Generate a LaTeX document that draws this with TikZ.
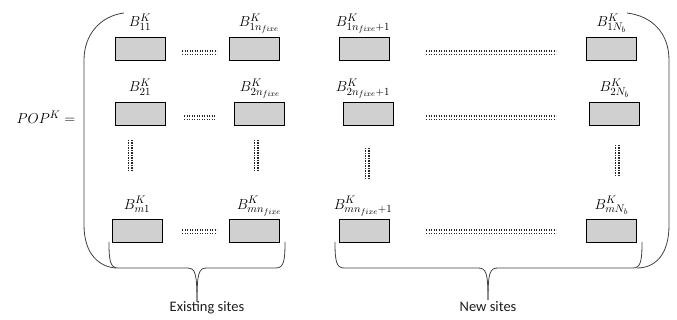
\documentclass[tikz,border=0pt]{standalone}
\usepackage{fontspec}
\newfontfamily\captfont{Carlito}
\DeclareMathSizes{15}{15}{11}{8.5}
\DeclareMathSizes{14}{14}{11}{8}
\begin{document}
\begin{tikzpicture}[x=1pt,y=-1pt,
  blk/.style={draw=black,line width=0.8pt,fill={rgb,255:red,208;green,208;blue,208},minimum width=50pt,minimum height=23pt,inner sep=0pt},
  lbl/.style={anchor=base,inner sep=0pt,font=\fontsize{15}{17}\selectfont},
  hdots/.style={line width=1.1pt,dash pattern=on 1.1pt off 1.4pt,black!85},
  brk/.style={line width=0.8pt,draw={rgb,255:red,64;green,64;blue,64}},
  capt/.style={inner sep=0pt,font=\captfont\fontsize{14.5}{16}\selectfont,anchor=base,text={rgb,255:red,30;green,30;blue,30}}]
\useasboundingbox (0,0) rectangle (677,320);
% boxes
\node[blk] (b11) at (140,48.5) {};
\node[blk] (b1f) at (254,48.5) {};
\node[blk] (b1g) at (364,48.5) {};
\node[blk] (b1n) at (611.5,48.5) {};
\node[blk] (b21) at (140,113.5) {};
\node[blk] (b2f) at (259,113.5) {};
\node[blk] (b2g) at (368,113.5) {};
\node[blk] (b2n) at (614.5,113.5) {};
\node[blk] (bm1) at (137,231) {};
\node[blk] (bmf) at (254,231) {};
\node[blk] (bmg) at (364,231) {};
\node[blk] (bmn) at (611.5,231) {};
% labels
\node[lbl] (l11) at ([yshift=10pt]b11.north) {$B_{11}^K$};
\node[lbl] (l1f) at ([xshift=5pt,yshift=10pt]b1f.north) {$B_{1n_{fixe}}^K$};
\node[lbl] (l1g) at ([xshift=-1pt,yshift=10pt]b1g.north) {$B_{1n_{fixe}+1}^K$};
\node[lbl] (l1n) at ([yshift=10pt]b1n.north) {$B_{1N_b}^K$};
\node[lbl] (l21) at ([yshift=10pt]b21.north) {$B_{21}^K$};
\node[lbl] (l2f) at ([xshift=1pt,yshift=10pt]b2f.north) {$B_{2n_{fixe}}^K$};
\node[lbl] (l2g) at ([xshift=-5pt,yshift=10pt]b2g.north) {$B_{2n_{fixe}+1}^K$};
\node[lbl] (l2n) at ([yshift=10pt]b2n.north) {$B_{2N_b}^K$};
\node[lbl] (lm1) at ([yshift=10pt]bm1.north) {$B_{m1}^K$};
\node[lbl] (lmf) at ([xshift=5pt,yshift=10pt]bmf.north) {$B_{mn_{fixe}}^K$};
\node[lbl] (lmg) at ([xshift=-1pt,yshift=10pt]bmg.north) {$B_{mn_{fixe}+1}^K$};
\node[lbl] (lmn) at ([yshift=10pt]bmn.north) {$B_{mN_b}^K$};
% POP
\node[anchor=base,inner sep=0pt,font=\fontsize{14}{16}\selectfont] (pop) at (46,124) {$POP^K =$};
% horizontal dots
\foreach \y in {51,54.5}{
  \draw[hdots] (182,\y) -- (217,\y);
  \draw[hdots] (184,116+\y-51) -- (215,116+\y-51);
  \draw[hdots] (182,233+\y-51-3) -- (217,233+\y-51-3);
  \draw[hdots] (426,\y) -- (556,\y);
  \draw[hdots] (426,116+\y-51) -- (556,116+\y-51);
  \draw[hdots] (426,233+\y-51-3) -- (556,233+\y-51-3);
}
% vertical dots
\foreach \x in {128.5,132}{
  \draw[hdots] (\x,140) -- (\x,171);
  \draw[hdots] (\x+126,140) -- (\x+126,171);
  \draw[hdots] (\x+237,148) -- (\x+237,180);
  \draw[hdots] (\x+487,145) -- (\x+487,177);
}
% big bracket
\draw[brk] (124,13) .. controls (100,16) and (84,35) .. (84,60) -- (84,225) .. controls (84,255) and (100,267) .. (116,268);
\draw[brk] (627,13) .. controls (652,16) and (669,33) .. (669,60) -- (669,225) .. controls (669,255) and (655,268) .. (637,268);
% braces
\coordinate (e1) at (109,242);
\coordinate (e2) at (285,242);
\coordinate (et) at (197,302);
\draw[brk] (e1) .. controls (109,260) and (110,268) .. (118,268) -- (187,268) .. controls (195,268) and (197,272) .. (et);
\draw[brk] (e2) .. controls (285,260) and (284,268) .. (276,268) -- (207,268) .. controls (199,268) and (197,272) .. (et);
\coordinate (n1) at (335,242);
\coordinate (n2) at (642,242);
\coordinate (nt) at (488,300);
\draw[brk] (n1) .. controls (335,260) and (336,268) .. (344,268) -- (478,268) .. controls (486,268) and (488,272) .. (nt);
\draw[brk] (n2) .. controls (642,260) and (641,268) .. (633,268) -- (498,268) .. controls (490,268) and (488,272) .. (nt);
\node[capt] (cap1) at (207,312) {Existing sites};
\node[capt] (cap2) at (488,312) {New sites};
\end{tikzpicture}
\end{document}
